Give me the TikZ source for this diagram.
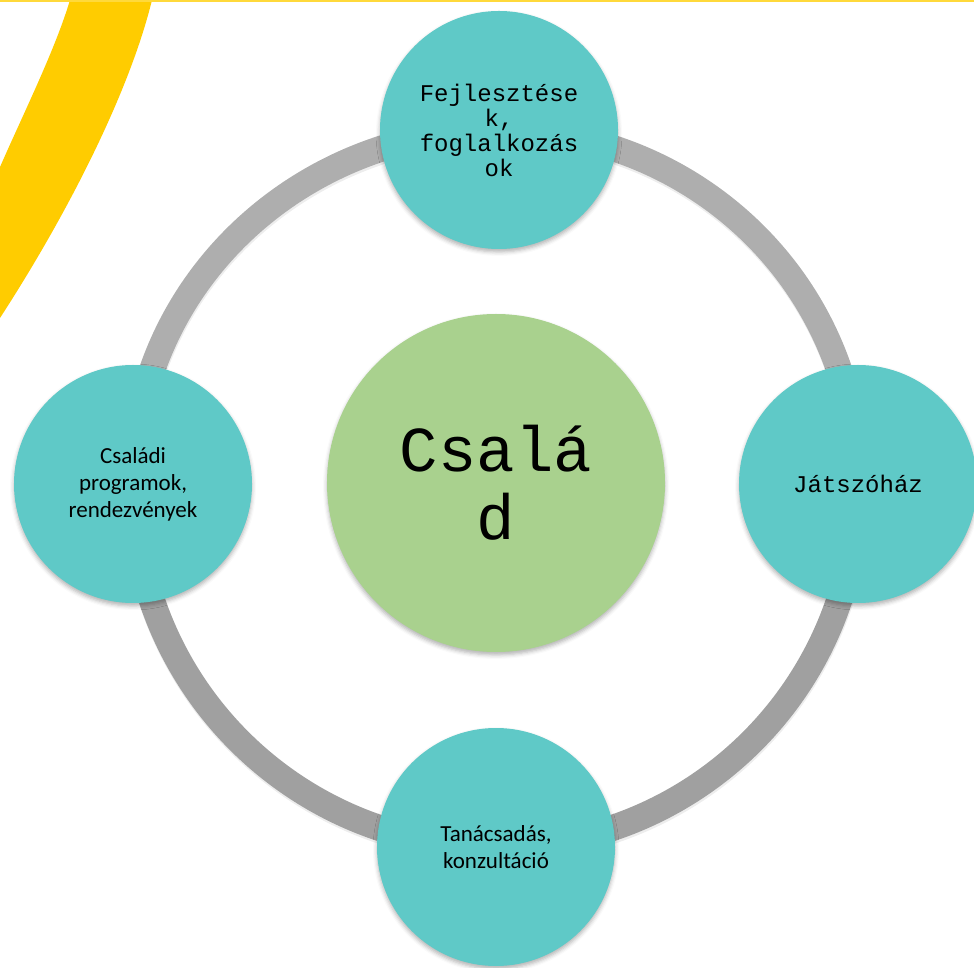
\documentclass[tikz,border=0pt]{standalone}
\usepackage{fontspec}
\setmainfont{Carlito}
\newfontfamily\monofont{Liberation Mono}
\usepackage{xcolor}
\usetikzlibrary{calc}
\usetikzlibrary{shadows.blur}
\definecolor{turkiz}{HTML}{5FC9C7}
\definecolor{zold}{HTML}{A9D18E}
\definecolor{sarga}{HTML}{FFCC00}
\definecolor{sargavonal}{HTML}{FFD93B}
\definecolor{gyurufelso}{HTML}{AEAEAE}
\definecolor{gyurualso}{HTML}{A0A0A0}
\tikzset{
 kor/.style={circle, fill=turkiz, minimum size=238pt, inner sep=0pt, align=center,
  blur shadow={shadow xshift=0pt, shadow yshift=-3pt, shadow opacity=30, shadow blur radius=4pt}},
 kozep/.style={kor, fill=zold, minimum size=338pt},
 gyuru/.style={line width=26pt},
 monoszoveg/.style={font=\monofont\fontsize{24}{25}\selectfont},
 calibri/.style={font=\fontsize{23}{27}\selectfont}
}

\begin{document}
\begin{tikzpicture}[x=1pt,y=1pt]
\useasboundingbox (0,0) rectangle (974,967);
% sarga csik es vonal
\fill[sarga] (70,967) -- (152,967) .. controls (130,877) and (70,757) .. (0,649)
 -- (0,800) .. controls (25,857) and (55,917) .. (70,967) -- cycle;
\fill[sargavonal] (0,964.5) rectangle (974,967);

\coordinate (fejlk) at (499,837);
\coordinate (jatekk) at (858,483);
\coordinate (tank) at (496,120);
\coordinate (csalk) at (133,483);

% gyuru arnyeka es gyuru
\foreach \a/\b/\o/\i in {fejlk/jatekk/0/90, jatekk/tank/-90/0, tank/csalk/180/-90, csalk/fejlk/90/180}
 \draw[gyuru, black, opacity=.07] ($(\a)+(0.5,-2.5)$) to[out=\o,in=\i] ($(\b)+(0.5,-2.5)$);
\foreach \a/\b/\o/\i/\c in {fejlk/jatekk/0/90/gyurufelso, jatekk/tank/-90/0/gyurualso,
   tank/csalk/180/-90/gyurualso, csalk/fejlk/90/180/gyurufelso}
 \draw[gyuru, \c] (\a) to[out=\o,in=\i] (\b);

\node[kozep, font=\monofont\fontsize{64}{68}\selectfont] (csalad) at (496,484) {Csalá\\d};
\node[kor, monoszoveg] (fejl) at (fejlk) {Fejlesztése\\k,\\foglalkozás\\ok};
\node[kor, monoszoveg] (jatek) at (jatekk) {Játszóház};
\node[kor, calibri] (tanacs) at (tank) {Tanácsadás,\\konzultáció};
\node[kor, calibri] (csaladi) at (csalk) {Családi\\programok,\\rendezvények};
\end{tikzpicture}
\end{document}
